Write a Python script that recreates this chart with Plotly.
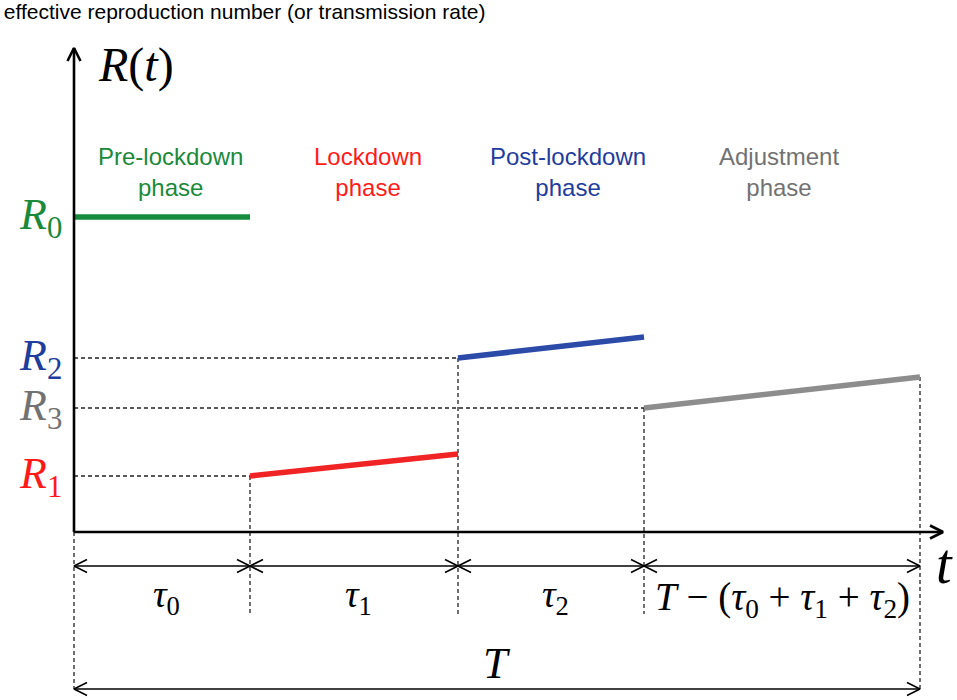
import plotly.graph_objects as go

# phase durations (arbitrary time units)
taus = [1.76, 2.08, 1.86]
T_total = 8.46

# R(t) levels at the start and end of each phase
phase_names = ["Pre-lockdown<br>phase", "Lockdown<br>phase", "Post-lockdown<br>phase", "Adjustment<br>phase"]
r_start = [3.15, 0.56, 1.74, 1.24]
r_end = [3.15, 0.78, 1.95, 1.55]
r_labels = ["R", "R", "R", "R"]
r_subs = ["0", "1", "2", "3"]
line_colors = ["#178c3e", "#f02424", "#2c4aa8", "#8d8d8d"]
text_colors = ["#1a8a3a", "#ff1a1a", "#1f3d9c", "#727272"]

# layout helpers (not data)
dim_y = -0.34      # row of the tau arrows
total_y = -1.57    # row of the T arrow
tick_drop = -0.82  # where the phase dashed lines end
phase_label_x = [0.96, 2.94, 4.94, 7.05]
serif = "Liberation Serif"
sans = "Liberation Sans"

bounds = [0]
for t in taus:
    bounds.append(bounds[-1] + t)
bounds.append(T_total)


def chevron(x, y, direction, size=0.13, half=0.065):
    # open arrow head, direction = +1 points right, -1 left, 'up' points up
    if direction == "up":
        return [x - half, x, x + half, None], [y - size, y, y - size, None]
    return [x - direction * size, x, x - direction * size, None], [y + half, y, y - half, None]


fig = go.Figure()

# dashed guide lines
dash_x, dash_y = [], []
# horizontal guides from the axis to each phase start
for i in (1, 2, 3):
    dash_x += [0, bounds[i], None]
    dash_y += [r_start[i], r_start[i], None]
# vertical guides
dash_x += [0, 0, None]
dash_y += [0, total_y, None]
for i in (1, 2, 3):
    dash_x += [bounds[i], bounds[i], None]
    dash_y += [r_start[i], tick_drop, None]
dash_x += [bounds[4], bounds[4], None]
dash_y += [r_end[3], total_y, None]
fig.add_trace(go.Scatter(x=dash_x, y=dash_y, mode="lines",
                         line=dict(color="#222222", width=1.3, dash="4px,3px"),
                         hoverinfo="skip"))

# R(t) segments
for i in range(4):
    fig.add_trace(go.Scatter(x=[bounds[i], bounds[i + 1]], y=[r_start[i], r_end[i]],
                             mode="lines", line=dict(color=line_colors[i], width=5.5),
                             hoverinfo="skip"))

# axes and dimension arrows
ax_x = [0, 0, None, 0, 8.69, None]
ax_y = [4.84, 0, None, 0, 0, None]
cx, cy = chevron(0, 4.84, "up")
ax_x += cx
ax_y += cy
cx, cy = chevron(8.69, 0, 1)
ax_x += cx
ax_y += cy
fig.add_trace(go.Scatter(x=ax_x, y=ax_y, mode="lines",
                         line=dict(color="black", width=2.6), hoverinfo="skip"))

arr_x, arr_y = [], []
for i in range(4):
    arr_x += [bounds[i], bounds[i + 1], None]
    arr_y += [dim_y, dim_y, None]
    for xx, d in ((bounds[i], -1), (bounds[i + 1], 1)):
        cx, cy = chevron(xx, dim_y, d)
        arr_x += cx
        arr_y += cy
arr_x += [0, T_total, None]
arr_y += [total_y, total_y, None]
for xx, d in ((0, -1), (T_total, 1)):
    cx, cy = chevron(xx, total_y, d)
    arr_x += cx
    arr_y += cy
fig.add_trace(go.Scatter(x=arr_x, y=arr_y, mode="lines",
                         line=dict(color="black", width=1.6), hoverinfo="skip"))

# phase titles
for i in range(4):
    fig.add_annotation(x=phase_label_x[i], y=3.60, text=phase_names[i],
                       showarrow=False, font=dict(family=sans, size=24, color=text_colors[i]))

# R level labels
for i in range(4):
    fig.add_annotation(x=-0.1, y=r_start[i], text="<i>%s</i><sub>%s</sub>" % (r_labels[i], r_subs[i]),
                       showarrow=False, xanchor="right", yanchor="middle",
                       font=dict(family=serif, size=44, color=text_colors[i]))

# math labels
fig.add_annotation(x=0.22, y=4.67, text="<i>R</i>(<i>t</i>)", showarrow=False, xanchor="left",
                   font=dict(family=serif, size=48, color="black"))
fig.add_annotation(x=8.70, y=-0.32, text="<i>t</i>", showarrow=False, xanchor="center",
                   font=dict(family=serif, size=56, color="black"))
for i in range(3):
    fig.add_annotation(x=(bounds[i] + bounds[i + 1]) / 2 + 0.04, y=-0.65,
                       text="<i>τ</i><sub>%d</sub>" % i, showarrow=False,
                       font=dict(family=serif, size=38, color="black"))
fig.add_annotation(x=(bounds[3] + bounds[4]) / 2, y=-0.67,
                   text="<i>T</i> − (<i>τ</i><sub>0</sub> + <i>τ</i><sub>1</sub> + <i>τ</i><sub>2</sub>)",
                   showarrow=False, font=dict(family=serif, size=39, color="black"))
fig.add_annotation(x=T_total / 2, y=-1.31, text="<i>T</i>", showarrow=False,
                   font=dict(family=serif, size=44, color="black"))

fig.update_layout(
    width=957, height=700,
    margin=dict(l=0, r=0, t=0, b=0),
    paper_bgcolor="white", plot_bgcolor="white",
    showlegend=False,
    title=dict(text="effective reproduction number (or transmission rate)",
               x=0.004, xanchor="left", y=0.994, yanchor="top",
               font=dict(family=sans, size=21, color="black")),
    xaxis=dict(range=[-0.74, 8.83], visible=False, fixedrange=True),
    yaxis=dict(range=[-1.68, 5.32], visible=False, fixedrange=True),
)

# drop the default page margin so the figure fills the window exactly
fig.write_html("out.html", config={"displayModeBar": False},
               post_script="document.body.style.margin='0';")
